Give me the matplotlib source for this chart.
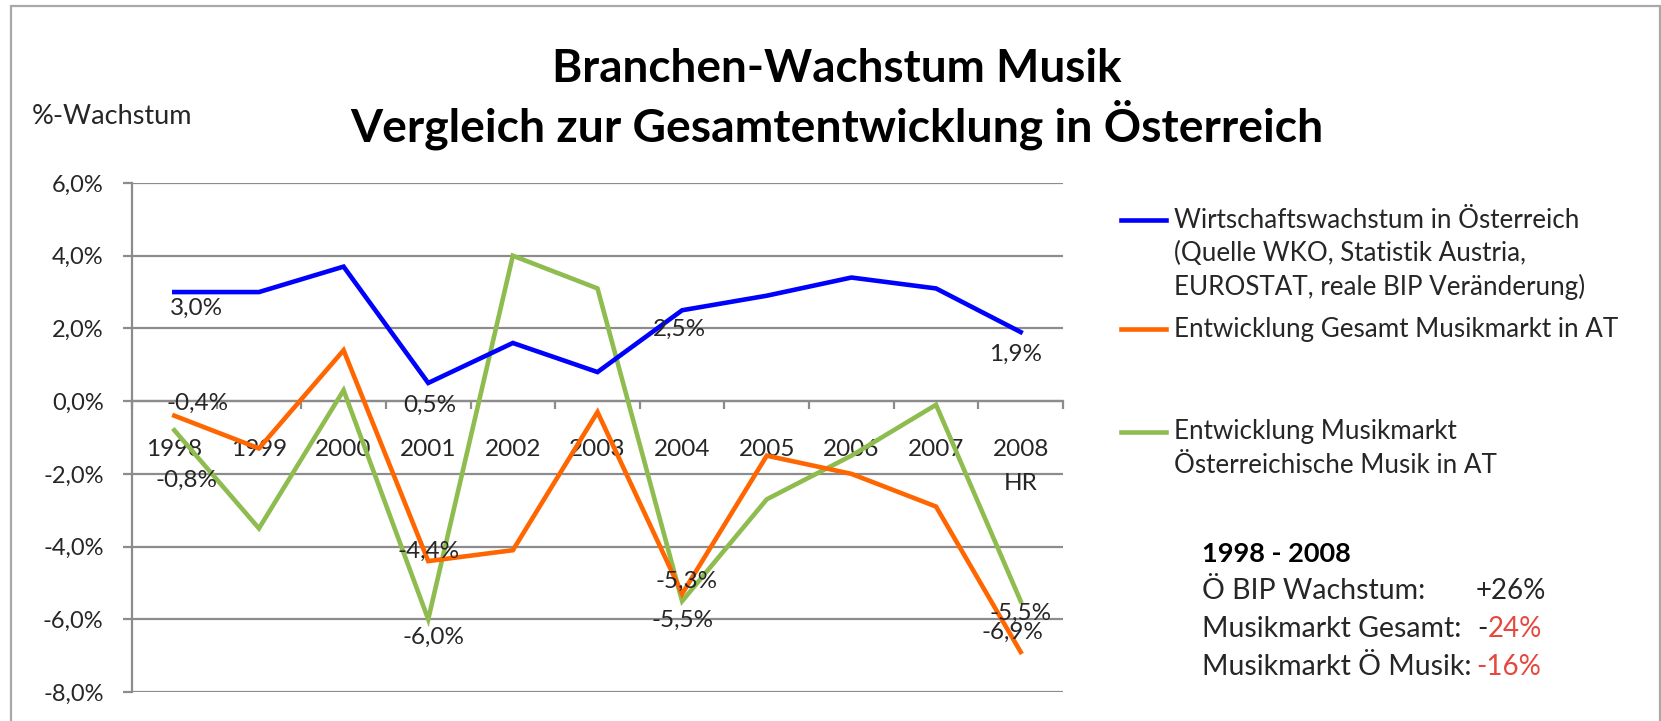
import matplotlib
matplotlib.use("Agg")
import matplotlib.pyplot as plt
from matplotlib.lines import Line2D
from matplotlib.patches import Rectangle
from matplotlib.ticker import FixedLocator, FuncFormatter

plt.rcParams['font.family'] = ['Lato', 'DejaVu Sans']

# Daten
jahre = ['1998', '1999', '2000', '2001', '2002', '2003', '2004', '2005', '2006', '2007', '2008']
bip = [3.0, 3.0, 3.7, 0.5, 1.6, 0.8, 2.5, 2.9, 3.4, 3.1, 1.9]
gesamt = [-0.4, -1.3, 1.4, -4.4, -4.1, -0.3, -5.3, -1.5, -2.0, -2.9, -6.9]
oe_musik = [-0.8, -3.5, 0.3, -6.0, 4.0, 3.1, -5.5, -2.7, -1.5, -0.1, -5.5]

legende = [
    ['Wirtschaftswachstum in Österreich', '(Quelle WKO, Statistik Austria,',
     'EUROSTAT, reale BIP Veränderung)'],
    ['Entwicklung Gesamt Musikmarkt in AT'],
    ['Entwicklung Musikmarkt', 'Österreichische Musik in AT'],
]
stat_zeilen = ['Ö BIP Wachstum:', 'Musikmarkt Gesamt:', 'Musikmarkt Ö Musik:']

BLAU = '#0000ff'
ORANGE = '#ff6600'
GRUEN = '#8fbc4f'
ROT = '#e5483e'
TXT = '#262626'
GRID = '#8c8c8c'

W, H = 1661, 721
fig = plt.figure(figsize=(W / 100, H / 100), dpi=100)

def fx(px):
    return px / W

def fy(py):
    return 1 - py / H

# Rahmen
fig.add_artist(Rectangle((fx(11), -0.1), fx(1660) - fx(11), fy(6) + 0.1,
                         transform=fig.transFigure, fill=False,
                         edgecolor='#a8a8a8', lw=1.6))

ax = fig.add_axes([fx(132), fy(692), (1063 - 132) / W, (692 - 183) / H])
x = list(range(len(jahre)))

ax.plot(x, bip, color=BLAU, lw=3.3, zorder=4, solid_joinstyle='miter')
ax.plot(x, gesamt, color=ORANGE, lw=3.3, zorder=4, solid_joinstyle='miter')
ax.plot(x, oe_musik, color=GRUEN, lw=3.3, zorder=3, solid_joinstyle='miter')

ax.set_xlim(-0.5, len(jahre) - 0.5)
ax.set_ylim(-8, 6)
ax.yaxis.set_major_locator(FixedLocator([-8, -6, -4, -2, 0, 2, 4, 6]))
ax.yaxis.set_major_formatter(FuncFormatter(lambda v, p: f"{v:.1f}%".replace('.', ',')))
ax.grid(axis='y', color=GRID, lw=1.6)
ax.set_axisbelow(True)

for s in ['top', 'right']:
    ax.spines[s].set_visible(False)
ax.spines['left'].set_color(GRID)
ax.spines['left'].set_linewidth(1.6)
ax.spines['bottom'].set_position(('data', 0))
ax.spines['bottom'].set_color(GRID)
ax.spines['bottom'].set_linewidth(1.6)

ax.xaxis.set_major_locator(FixedLocator([i - 0.5 for i in range(len(jahre) + 1)]))
ax.set_xticklabels([])
ax.tick_params(axis='x', direction='out', length=5.5, width=1.6, color=GRID)
ax.tick_params(axis='y', direction='out', length=6.5, width=1.6, color=GRID,
               labelsize=17, labelcolor=TXT, pad=14)

# Kategorien unter der 0-Linie
for i, j in enumerate(jahre):
    ax.annotate(j, (i, 0), xytext=(0, -35), textcoords='offset points',
                ha='center', va='center', fontsize=17.5, color=TXT, zorder=2)
ax.annotate('HR', (len(jahre) - 1, 0), xytext=(0, -59), textcoords='offset points',
            ha='center', va='center', fontsize=17.5, color=TXT)

# Datenbeschriftungen
def fmt(v):
    return f"{v:.1f}%".replace('.', ',')

beschr = [
    (bip, [(0, 16, -12), (3, 1, -16), (6, -2, -14), (10, -4, -16)]),
    (gesamt, [(0, 17, 9), (3, 0, 7), (6, 3, 9), (10, -6, 14)]),
    (oe_musik, [(0, 9, -36), (3, 4, -13), (6, 0, -14), (10, 0, -9)]),
]
for serie, punkte in beschr:
    for i, dx, dy in punkte:
        ax.annotate(fmt(serie[i]), (i, serie[i]), xytext=(dx, dy),
                    textcoords='offset points', ha='center', va='center',
                    fontsize=17.5, color=TXT, zorder=5)

# Titel
fig.text(fx(837), fy(82), 'Branchen-Wachstum Musik', ha='center', va='baseline',
         fontsize=33, fontweight='bold', color='black')
fig.text(fx(837), fy(141), 'Vergleich zur Gesamtentwicklung in Österreich',
         ha='center', va='baseline', fontsize=33.3, fontweight='bold', color='black')
fig.text(fx(32), fy(117), '%-Wachstum', ha='left', va='center', fontsize=19.5, color=TXT)

# Legende
for farbe, zeilen, y0 in zip([BLAU, ORANGE, GRUEN], legende, [220, 329, 432]):
    fig.add_artist(Line2D([fx(1121), fx(1166)], [fy(y0), fy(y0)],
                          transform=fig.transFigure, color=farbe, lw=3.3))
    for k, z in enumerate(zeilen):
        fig.text(fx(1174), fy(y0 + 33.5 * k), z, ha='left', va='center',
                 fontsize=18.7, color=TXT)

# Zusammenfassung
fig.text(fx(1202), fy(554), '1998 - 2008', ha='left', va='center',
         fontsize=19.5, fontweight='bold', color='black')
for k, z in enumerate(stat_zeilen):
    fig.text(fx(1202), fy(591 + 38 * k), z, ha='left', va='center', fontsize=20.5, color=TXT)
fig.text(fx(1476), fy(591), '+26%', ha='left', va='center', fontsize=20, color=TXT)
minus = fig.text(fx(1477), fy(629), '-', ha='left', va='center', fontsize=20, color=TXT)
fig.add_artist(plt.Annotation('24%', xy=(1, 0), xycoords=minus, ha='left', va='bottom',
                              fontsize=20, color=ROT))
fig.text(fx(1476), fy(667), '-16%', ha='left', va='center', fontsize=20, color=ROT)

fig.savefig('out.png', dpi=100)
